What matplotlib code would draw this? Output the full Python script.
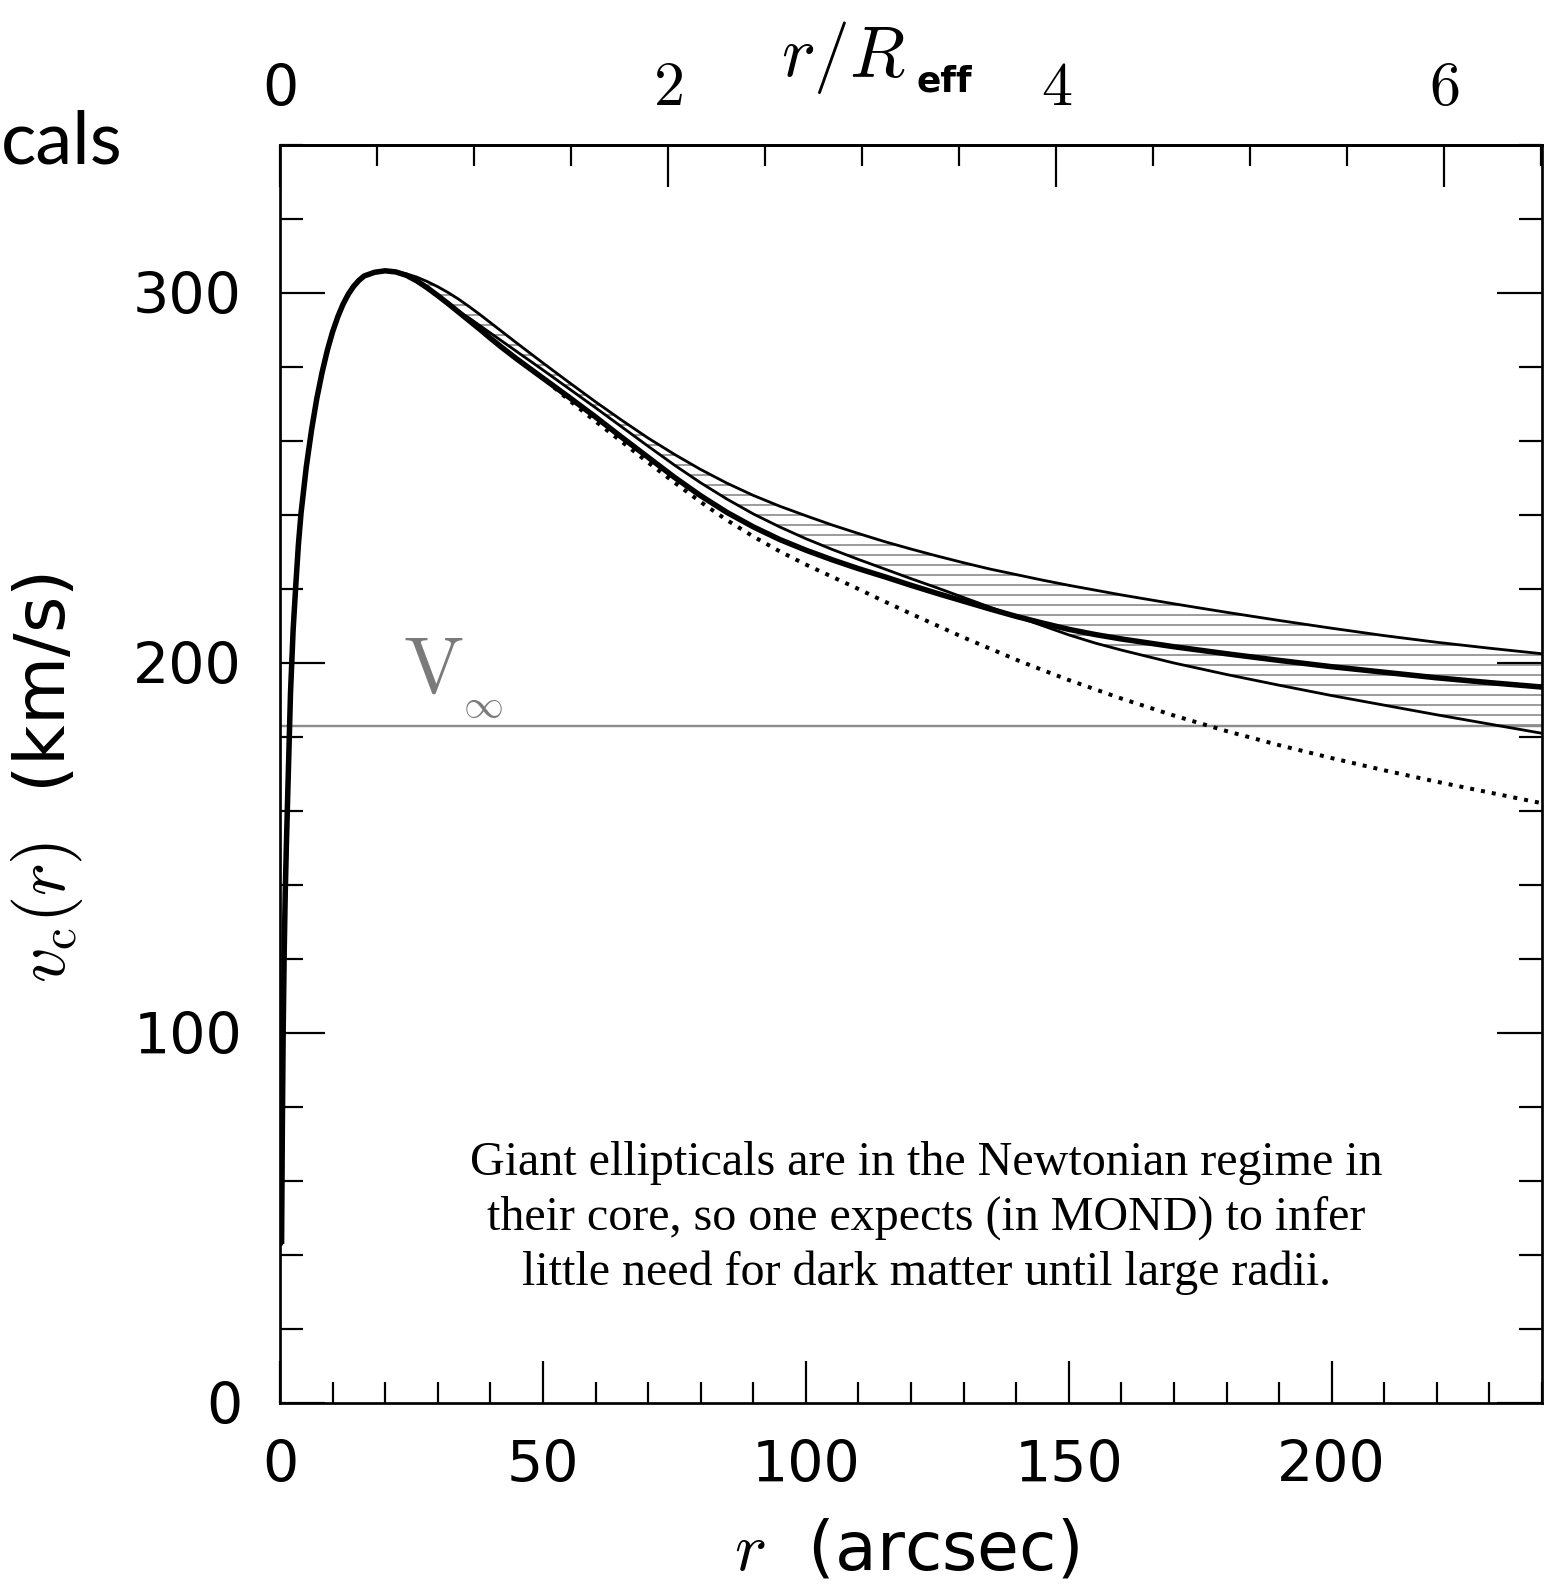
import matplotlib
matplotlib.use('Agg')
import matplotlib.pyplot as plt
from matplotlib.ticker import MultipleLocator, FixedLocator

# ---------------- data ----------------
r_arcsec = [0.3, 0.45, 0.6, 0.8, 1.0, 1.2, 1.5, 2, 2.5, 3, 3.5, 4, 5, 6, 7, 8,
            9, 10, 11, 12, 13, 14, 15, 16, 18, 20, 22, 24, 26, 28, 30, 32, 34,
            36, 38, 40, 42, 45, 50, 55, 60, 65, 70, 75, 80, 85, 90, 95, 100,
            105, 110, 115, 120, 125, 130, 135, 140, 145, 150, 155, 160, 170,
            180, 190, 200, 210, 220, 230, 240]

v_mond = [43, 75, 100, 122, 138, 150, 166, 192, 209, 221, 232, 240.5, 253, 263,
          271.5, 278.5, 284.5, 289.5, 293.6, 297, 299.7, 301.8, 303.4, 304.6,
          305.6, 306, 305.7, 304.8, 303.3, 301.4, 299.3, 297.1, 294.8, 292.5,
          290.2, 287.8, 285.5, 282.2, 277, 271.8, 266.5, 261, 255.6, 250.2,
          245.2, 240.7, 236.8, 233.4, 230.5, 227.9, 225.5, 223.3, 221.0, 218.8,
          216.7, 214.6, 212.6, 210.8, 209.1, 207.7, 206.5, 204.4, 202.5, 200.7,
          199.0, 197.5, 196.0, 194.7, 193.5]

v_upper = [43, 75, 100, 122, 138, 150, 166, 192, 209, 221, 232, 240.5, 253, 263,
           271.5, 278.5, 284.5, 289.5, 293.6, 297, 299.7, 301.8, 303.4, 304.6,
           305.6, 306, 305.8, 305.2, 304.3, 303.1, 301.7, 300.1, 298.3, 296.3,
           294.2, 292.0, 289.8, 286.5, 281.1, 275.8, 270.6, 265.6, 260.8, 256.4,
           252.3, 248.6, 245.3, 242.4, 239.8, 237.3, 235.0, 232.8, 230.8, 228.9,
           227.1, 225.4, 223.9, 222.4, 221.0, 219.7, 218.4, 216.0, 213.7, 211.5,
           209.4, 207.4, 205.6, 204.0, 202.5]

v_lower = [43, 75, 100, 122, 138, 150, 166, 192, 209, 221, 232, 240.5, 253, 263,
           271.5, 278.5, 284.5, 289.5, 293.6, 297, 299.7, 301.8, 303.4, 304.6,
           305.6, 306, 305.7, 304.8, 303.3, 301.4, 299.3, 297.1, 295.0, 293.2,
           291.2, 289.2, 287.2, 284.2, 279.2, 274.1, 269.0, 263.8, 258.6, 253.5,
           248.7, 244.3, 240.3, 236.8, 233.6, 230.7, 228.0, 225.4, 222.8, 220.3,
           217.7, 215.1, 212.6, 210.1, 207.6, 205.4, 203.5, 200.0, 196.9, 194.0,
           191.2, 188.6, 186.0, 183.5, 181.0]

v_newton = [43, 75, 100, 122, 138, 150, 166, 192, 209, 221, 232, 240.5, 253, 263,
            271.5, 278.5, 284.5, 289.5, 293.6, 297, 299.7, 301.8, 303.4, 304.6,
            305.6, 306, 305.7, 304.8, 303.3, 301.4, 299.3, 297.1, 294.8, 292.5,
            290.2, 287.8, 285.5, 282.2, 277, 271.0, 265.3, 259.8, 254.2, 248.8,
            243.5, 238.6, 234.2, 230.2, 226.6, 223.3, 220.0, 216.6, 213.3, 210.1,
            206.9, 203.9, 200.9, 198.1, 195.4, 192.9, 190.4, 185.8, 181.6, 177.8,
            174.3, 171.0, 167.9, 165.0, 162.1]

v_inf = 183.0
r_eff = 36.9

x_major = [0, 50, 100, 150, 200]
y_major = [0, 100, 200, 300]
top_major = [0, 2, 4, 6]
x_labels = ['0', '50', '100', '150', '200']
y_labels = ['0', '100', '200', '300']
top_labels = ['0', '2', '4', '6']

annotation = ("Giant ellipticals are in the Newtonian regime in\n"
              "their core, so one expects (in MOND) to infer\n"
              "little need for dark matter until large radii.")

# ---------------- figure ----------------
W, H, DPI = 1547, 1588, 120
PT = 72.0 / DPI  # points per pixel
plt.rcParams['mathtext.fontset'] = 'cm'
plt.rcParams['hatch.linewidth'] = 1.6 * PT
plt.rcParams['hatch.color'] = '#858585'

fig = plt.figure(figsize=(W / DPI, H / DPI), dpi=DPI)
ax = fig.add_axes([280 / W, 1 - 1403 / H, 1262 / W, 1258 / H])
ax.set_xlim(0, 240)
ax.set_ylim(0, 340)

# hatched band
ax.fill_between(r_arcsec, v_lower, v_upper, facecolor='none', edgecolor='#858585',
                hatch='--', linewidth=0, zorder=1)
# V_inf line
ax.axhline(v_inf, color='#8c8c8c', lw=2.4 * PT, zorder=2)
# curves
ax.plot(r_arcsec, v_upper, color='black', lw=2.8 * PT, zorder=3,
        solid_joinstyle='round')
ax.plot(r_arcsec, v_lower, color='black', lw=2.8 * PT, zorder=3,
        solid_joinstyle='round')
ax.plot(r_arcsec, v_newton, color='black', lw=4.0 * PT, ls=(0, (1, 1.75)),
        dash_capstyle='butt', zorder=3)
ax.plot(r_arcsec, v_mond, color='black', lw=5.5 * PT, zorder=4,
        solid_capstyle='butt', solid_joinstyle='round')

ax.text(23.4, 192.0, r'$\mathrm{V}$', color='#7a7a7a', fontsize=80 * PT,
        ha='left', va='baseline')
ax.text(38.6, 188.5, r'$\infty$', color='#7a7a7a', fontsize=40 * PT,
        ha='center', va='center')

# spines & ticks
for s in ax.spines.values():
    s.set_linewidth(2.7 * PT)
ax.xaxis.set_major_locator(FixedLocator(x_major))
ax.xaxis.set_minor_locator(MultipleLocator(10))
ax.yaxis.set_major_locator(FixedLocator(y_major))
ax.yaxis.set_minor_locator(MultipleLocator(20))
ax.set_xticklabels(x_labels)
ax.set_yticklabels(y_labels)
ax.tick_params(which='both', direction='in', right=True, top=False,
               width=2.2 * PT, colors='black')
ax.tick_params(axis='x', which='major', length=42 * PT, pad=36 * PT,
               labelsize=57 * PT)
ax.tick_params(axis='x', which='minor', length=21 * PT)
ax.tick_params(axis='y', which='major', length=45 * PT, pad=38 * PT,
               labelsize=57 * PT)
ax.tick_params(axis='y', which='minor', length=23 * PT)
for lab in ax.get_xticklabels() + ax.get_yticklabels():
    lab.set_fontfamily('DejaVu Sans')

top = ax.secondary_xaxis('top', functions=(lambda x: x / r_eff, lambda t: t * r_eff))
top.xaxis.set_major_locator(FixedLocator(top_major))
top.xaxis.set_minor_locator(MultipleLocator(0.5))
top.set_xticks(top_major)
top.set_xticklabels([top_labels[0]] + ['$%s$' % t for t in top_labels[1:]])
top.tick_params(which='both', direction='in', width=2.2 * PT)
top.tick_params(which='major', length=42 * PT, pad=27 * PT, labelsize=62 * PT)
top.tick_params(which='minor', length=21 * PT)
top.spines['top'].set_linewidth(2.7 * PT)
tl = top.get_xticklabels()
tl[0].set_fontfamily('DejaVu Sans')
tl[0].set_fontsize(57 * PT)

# axis titles
fig.text(906 / W, 1 - 1551 / H, r'$r$  (arcsec)', ha='center', va='center',
         fontsize=68 * PT, family='DejaVu Sans')
fig.text(47 / W, 1 - 778 / H, r'$v_{\rm c}(r)$  (km/s)', ha='center', va='center',
         rotation=90, fontsize=70 * PT, family='DejaVu Sans')
fig.text(843 / W, 1 - 57 / H, r'$r/R$', ha='center', va='center',
         fontsize=72 * PT)
fig.text(916 / W, 1 - 91 / H, 'eff', ha='left', va='baseline', fontweight='bold',
         fontsize=36 * PT, family='DejaVu Sans')

# slide title remnant
fig.text(0.5 / W, 1 - 163 / H, 'cals', ha='left', va='baseline',
         fontsize=74 * PT, family='Lato')

# annotation
fig.text(926 / W, 1 - 1218 / H, annotation, ha='center', va='center',
         fontsize=48 * PT, family='Liberation Serif', linespacing=1.3)

fig.savefig('out.png', dpi=DPI)
